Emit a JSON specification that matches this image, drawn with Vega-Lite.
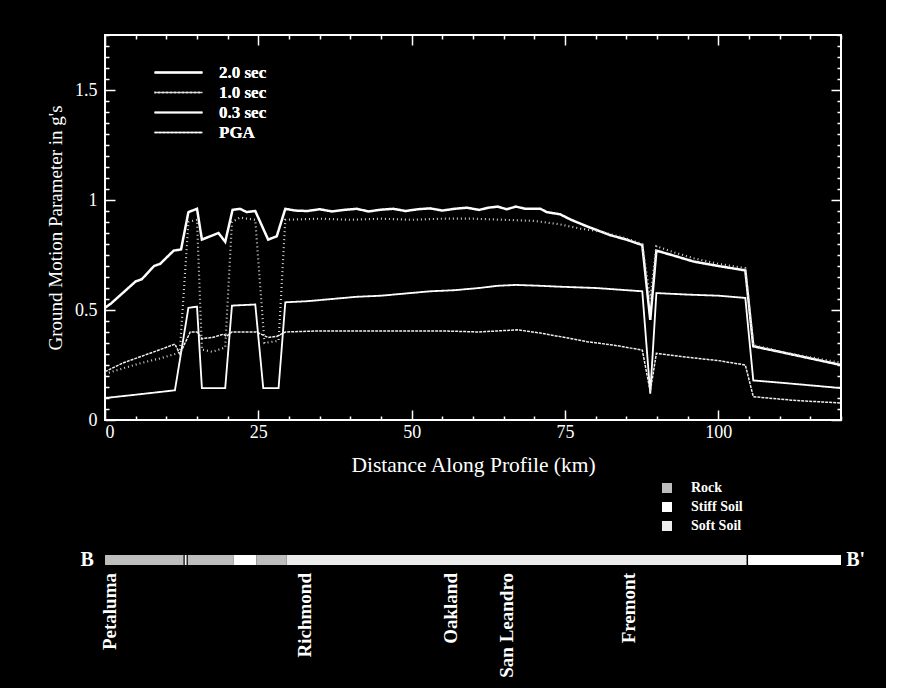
{
  "$schema": "https://vega.github.io/schema/vega-lite/v6.json",
  "background": "black",
  "padding": {"left": 45, "top": 25, "right": 20, "bottom": 10},
  "bounds": "flush",
  "spacing": 135,
  "resolve": {"scale": {"color": "independent", "x": "independent"}, "legend": {"color": "independent"}},
  "config": {
    "view": {"stroke": null},
    "font": "Liberation Serif",
    "axis": {
      "domain": false,
      "grid": false,
      "tickColor": "white",
      "tickWidth": 1.5,
      "labelColor": "white",
      "labelFont": "Liberation Serif",
      "labelFontSize": 18,
      "titleColor": "white",
      "titleFont": "Liberation Serif",
      "titleFontSize": 19,
      "titleFontWeight": "normal",
      "labelOverlap": false
    },
    "legend": {
      "labelFont": "Liberation Serif",
      "labelFontWeight": "bold",
      "labelColor": "white"
    }
  },
  "vconcat": [
    {
      "width": 736,
      "height": 385,
      "view": {"stroke": "white", "strokeWidth": 2},
      "data": {
        "values": [
          {"d": 0, "g": 0.51, "s": "2.0 sec"}, {"d": 1, "g": 0.53, "s": "2.0 sec"}, {"d": 3, "g": 0.58, "s": "2.0 sec"}, {"d": 5, "g": 0.63, "s": "2.0 sec"}, {"d": 6, "g": 0.64, "s": "2.0 sec"}, {"d": 8, "g": 0.7, "s": "2.0 sec"}, {"d": 9, "g": 0.71, "s": "2.0 sec"}, {"d": 11.2, "g": 0.77, "s": "2.0 sec"}, {"d": 12.4, "g": 0.775, "s": "2.0 sec"}, {"d": 13.6, "g": 0.945, "s": "2.0 sec"}, {"d": 15, "g": 0.96, "s": "2.0 sec"}, {"d": 15.8, "g": 0.82, "s": "2.0 sec"}, {"d": 18.5, "g": 0.85, "s": "2.0 sec"}, {"d": 19.6, "g": 0.81, "s": "2.0 sec"}, {"d": 20.8, "g": 0.955, "s": "2.0 sec"}, {"d": 22, "g": 0.96, "s": "2.0 sec"}, {"d": 23.1, "g": 0.945, "s": "2.0 sec"}, {"d": 24.5, "g": 0.95, "s": "2.0 sec"}, {"d": 26.6, "g": 0.82, "s": "2.0 sec"}, {"d": 28, "g": 0.835, "s": "2.0 sec"}, {"d": 29.4, "g": 0.96, "s": "2.0 sec"}, {"d": 31, "g": 0.952, "s": "2.0 sec"}, {"d": 33, "g": 0.95, "s": "2.0 sec"}, {"d": 35, "g": 0.958, "s": "2.0 sec"}, {"d": 37, "g": 0.948, "s": "2.0 sec"}, {"d": 39, "g": 0.955, "s": "2.0 sec"}, {"d": 41, "g": 0.96, "s": "2.0 sec"}, {"d": 43, "g": 0.948, "s": "2.0 sec"}, {"d": 45, "g": 0.956, "s": "2.0 sec"}, {"d": 47, "g": 0.96, "s": "2.0 sec"}, {"d": 49, "g": 0.95, "s": "2.0 sec"}, {"d": 51, "g": 0.958, "s": "2.0 sec"}, {"d": 53, "g": 0.962, "s": "2.0 sec"}, {"d": 55, "g": 0.952, "s": "2.0 sec"}, {"d": 57, "g": 0.96, "s": "2.0 sec"}, {"d": 59, "g": 0.965, "s": "2.0 sec"}, {"d": 61, "g": 0.955, "s": "2.0 sec"}, {"d": 62.5, "g": 0.965, "s": "2.0 sec"}, {"d": 64, "g": 0.97, "s": "2.0 sec"}, {"d": 65.5, "g": 0.958, "s": "2.0 sec"}, {"d": 67, "g": 0.97, "s": "2.0 sec"}, {"d": 68.5, "g": 0.96, "s": "2.0 sec"}, {"d": 71, "g": 0.96, "s": "2.0 sec"}, {"d": 72, "g": 0.945, "s": "2.0 sec"}, {"d": 74.2, "g": 0.935, "s": "2.0 sec"}, {"d": 76, "g": 0.91, "s": "2.0 sec"}, {"d": 78.6, "g": 0.88, "s": "2.0 sec"}, {"d": 80.5, "g": 0.86, "s": "2.0 sec"}, {"d": 82.4, "g": 0.84, "s": "2.0 sec"}, {"d": 85, "g": 0.82, "s": "2.0 sec"}, {"d": 87.6, "g": 0.795, "s": "2.0 sec"}, {"d": 88.9, "g": 0.455, "s": "2.0 sec"}, {"d": 89.9, "g": 0.77, "s": "2.0 sec"}, {"d": 93, "g": 0.745, "s": "2.0 sec"}, {"d": 96, "g": 0.72, "s": "2.0 sec"}, {"d": 100, "g": 0.7, "s": "2.0 sec"}, {"d": 104.4, "g": 0.68, "s": "2.0 sec"}, {"d": 105.7, "g": 0.335, "s": "2.0 sec"}, {"d": 110, "g": 0.31, "s": "2.0 sec"}, {"d": 115, "g": 0.28, "s": "2.0 sec"}, {"d": 120, "g": 0.25, "s": "2.0 sec"},

          {"d": 0, "g": 0.21, "s": "1.0 sec"}, {"d": 3, "g": 0.235, "s": "1.0 sec"}, {"d": 6, "g": 0.26, "s": "1.0 sec"}, {"d": 9, "g": 0.28, "s": "1.0 sec"}, {"d": 11.4, "g": 0.3, "s": "1.0 sec"}, {"d": 12.2, "g": 0.31, "s": "1.0 sec"}, {"d": 13.6, "g": 0.9, "s": "1.0 sec"}, {"d": 15, "g": 0.91, "s": "1.0 sec"}, {"d": 15.8, "g": 0.32, "s": "1.0 sec"}, {"d": 17.5, "g": 0.31, "s": "1.0 sec"}, {"d": 19.6, "g": 0.33, "s": "1.0 sec"}, {"d": 20.7, "g": 0.9, "s": "1.0 sec"}, {"d": 22, "g": 0.92, "s": "1.0 sec"}, {"d": 24.5, "g": 0.91, "s": "1.0 sec"}, {"d": 26, "g": 0.35, "s": "1.0 sec"}, {"d": 28.3, "g": 0.36, "s": "1.0 sec"}, {"d": 29.4, "g": 0.91, "s": "1.0 sec"}, {"d": 35, "g": 0.915, "s": "1.0 sec"}, {"d": 40, "g": 0.91, "s": "1.0 sec"}, {"d": 45, "g": 0.915, "s": "1.0 sec"}, {"d": 50, "g": 0.91, "s": "1.0 sec"}, {"d": 55, "g": 0.915, "s": "1.0 sec"}, {"d": 60, "g": 0.915, "s": "1.0 sec"}, {"d": 65, "g": 0.91, "s": "1.0 sec"}, {"d": 70, "g": 0.905, "s": "1.0 sec"}, {"d": 74, "g": 0.89, "s": "1.0 sec"}, {"d": 77.5, "g": 0.87, "s": "1.0 sec"}, {"d": 80, "g": 0.86, "s": "1.0 sec"}, {"d": 82.4, "g": 0.845, "s": "1.0 sec"}, {"d": 85, "g": 0.825, "s": "1.0 sec"}, {"d": 87.6, "g": 0.8, "s": "1.0 sec"}, {"d": 88.9, "g": 0.55, "s": "1.0 sec"}, {"d": 89.9, "g": 0.79, "s": "1.0 sec"}, {"d": 93, "g": 0.76, "s": "1.0 sec"}, {"d": 96, "g": 0.735, "s": "1.0 sec"}, {"d": 100, "g": 0.71, "s": "1.0 sec"}, {"d": 104.4, "g": 0.69, "s": "1.0 sec"}, {"d": 105.7, "g": 0.34, "s": "1.0 sec"}, {"d": 112, "g": 0.3, "s": "1.0 sec"}, {"d": 120, "g": 0.26, "s": "1.0 sec"},

          {"d": 0, "g": 0.1, "s": "0.3 sec"}, {"d": 5, "g": 0.115, "s": "0.3 sec"}, {"d": 11.4, "g": 0.135, "s": "0.3 sec"}, {"d": 13.6, "g": 0.51, "s": "0.3 sec"}, {"d": 15, "g": 0.515, "s": "0.3 sec"}, {"d": 15.8, "g": 0.145, "s": "0.3 sec"}, {"d": 19.6, "g": 0.145, "s": "0.3 sec"}, {"d": 20.7, "g": 0.52, "s": "0.3 sec"}, {"d": 24.5, "g": 0.525, "s": "0.3 sec"}, {"d": 25.8, "g": 0.145, "s": "0.3 sec"}, {"d": 28.3, "g": 0.145, "s": "0.3 sec"}, {"d": 29.4, "g": 0.535, "s": "0.3 sec"}, {"d": 33, "g": 0.54, "s": "0.3 sec"}, {"d": 37, "g": 0.55, "s": "0.3 sec"}, {"d": 41, "g": 0.56, "s": "0.3 sec"}, {"d": 45, "g": 0.565, "s": "0.3 sec"}, {"d": 49, "g": 0.575, "s": "0.3 sec"}, {"d": 53, "g": 0.585, "s": "0.3 sec"}, {"d": 57, "g": 0.59, "s": "0.3 sec"}, {"d": 61, "g": 0.6, "s": "0.3 sec"}, {"d": 64, "g": 0.61, "s": "0.3 sec"}, {"d": 67, "g": 0.614, "s": "0.3 sec"}, {"d": 71, "g": 0.61, "s": "0.3 sec"}, {"d": 74, "g": 0.606, "s": "0.3 sec"}, {"d": 80, "g": 0.6, "s": "0.3 sec"}, {"d": 87.6, "g": 0.585, "s": "0.3 sec"}, {"d": 88.9, "g": 0.12, "s": "0.3 sec"}, {"d": 89.9, "g": 0.577, "s": "0.3 sec"}, {"d": 95, "g": 0.57, "s": "0.3 sec"}, {"d": 100, "g": 0.565, "s": "0.3 sec"}, {"d": 104.4, "g": 0.555, "s": "0.3 sec"}, {"d": 105.7, "g": 0.18, "s": "0.3 sec"}, {"d": 112, "g": 0.165, "s": "0.3 sec"}, {"d": 120, "g": 0.145, "s": "0.3 sec"},

          {"d": 0, "g": 0.22, "s": "PGA"}, {"d": 3, "g": 0.26, "s": "PGA"}, {"d": 6, "g": 0.29, "s": "PGA"}, {"d": 9, "g": 0.32, "s": "PGA"}, {"d": 11.4, "g": 0.345, "s": "PGA"}, {"d": 12.2, "g": 0.3, "s": "PGA"}, {"d": 13.9, "g": 0.4, "s": "PGA"}, {"d": 15, "g": 0.4, "s": "PGA"}, {"d": 15.8, "g": 0.37, "s": "PGA"}, {"d": 17.5, "g": 0.375, "s": "PGA"}, {"d": 19.3, "g": 0.39, "s": "PGA"}, {"d": 19.8, "g": 0.38, "s": "PGA"}, {"d": 20.7, "g": 0.4, "s": "PGA"}, {"d": 24.7, "g": 0.4, "s": "PGA"}, {"d": 26.6, "g": 0.375, "s": "PGA"}, {"d": 28, "g": 0.38, "s": "PGA"}, {"d": 29.4, "g": 0.4, "s": "PGA"}, {"d": 35, "g": 0.405, "s": "PGA"}, {"d": 45, "g": 0.405, "s": "PGA"}, {"d": 55, "g": 0.405, "s": "PGA"}, {"d": 61, "g": 0.4, "s": "PGA"}, {"d": 67.2, "g": 0.41, "s": "PGA"}, {"d": 71, "g": 0.395, "s": "PGA"}, {"d": 75, "g": 0.375, "s": "PGA"}, {"d": 78.6, "g": 0.356, "s": "PGA"}, {"d": 83, "g": 0.34, "s": "PGA"}, {"d": 87.6, "g": 0.318, "s": "PGA"}, {"d": 88.9, "g": 0.13, "s": "PGA"}, {"d": 89.9, "g": 0.303, "s": "PGA"}, {"d": 95, "g": 0.285, "s": "PGA"}, {"d": 100, "g": 0.27, "s": "PGA"}, {"d": 104.4, "g": 0.25, "s": "PGA"}, {"d": 105.7, "g": 0.106, "s": "PGA"}, {"d": 112, "g": 0.09, "s": "PGA"}, {"d": 120, "g": 0.077, "s": "PGA"}
        ]
      },
      "layer": [
        {
          "mark": {"type": "line", "clip": true},
          "encoding": {
            "x": {
              "field": "d", "type": "quantitative",
              "scale": {"domain": [0, 120], "nice": false},
              "axis": {
                "orient": "bottom",
                "title": "Distance Along Profile (km)",
                "titleFontSize": 21.5,
                "values": [0,5,10,15,20,25,30,35,40,45,50,55,60,65,70,75,80,85,90,95,100,105,110,115,120],
                "labelExpr": "datum.value % 25 === 0 && datum.value < 120 ? datum.label : ''",
                "tickSize": {"condition": {"test": "datum.value % 25 === 0", "value": -10}, "value": -4},
                "labelPadding": 13,
                "titlePadding": 7
              }
            },
            "y": {
              "field": "g", "type": "quantitative",
              "scale": {"domain": [0, 1.75], "nice": false},
              "axis": {
                "orient": "left",
                "title": "Ground Motion Parameter in g's",
                "values": [0,0.05,0.1,0.15,0.2,0.25,0.3,0.35,0.4,0.45,0.5,0.55,0.6,0.65,0.7,0.75,0.8,0.85,0.9,0.95,1,1.05,1.1,1.15,1.2,1.25,1.3,1.35,1.4,1.45,1.5,1.55,1.6,1.65,1.7,1.75],
                "labelExpr": "abs(datum.value * 2 - round(datum.value * 2)) < 0.001 && datum.value < 1.7 ? format(datum.value, '~g') : ''",
                "tickSize": {"condition": {"test": "abs(datum.value * 2 - round(datum.value * 2)) < 0.001", "value": -10}, "value": -4},
                "labelPadding": 18,
                "titlePadding": 9
              }
            },
            "color": {
              "field": "s", "type": "nominal",
              "scale": {"domain": ["2.0 sec", "1.0 sec", "0.3 sec", "PGA"], "range": ["#ffffff", "#cfcfcf", "#ffffff", "#eeeeee"]},
              "legend": {
                "title": null, "orient": "none", "legendX": 65, "legendY": 29,
                "symbolType": "M-4,0H4", "symbolSize": 144, "symbolStrokeColor": "white", "symbolOpacity": 1,
                "labelFontSize": 17, "labelOffset": 32, "rowPadding": 2
              }
            },
            "strokeDash": {
              "field": "s", "type": "nominal",
              "scale": {"domain": ["2.0 sec", "1.0 sec", "0.3 sec", "PGA"], "range": [[1, 0], [1, 3], [1, 0], [3, 1]]},
              "legend": {
                "title": null, "orient": "none", "legendX": 65, "legendY": 29,
                "symbolType": "M-4,0H4", "symbolSize": 144, "symbolStrokeColor": "white", "symbolOpacity": 1,
                "labelFontSize": 17, "labelOffset": 32, "rowPadding": 2
              }
            },
            "strokeWidth": {
              "field": "s", "type": "nominal",
              "scale": {"domain": ["2.0 sec", "1.0 sec", "0.3 sec", "PGA"], "range": [2.5, 1.5, 2.5, 2.5]},
              "legend": {
                "title": null, "orient": "none", "legendX": 65, "legendY": 29,
                "symbolType": "M-4,0H4", "symbolSize": 144, "symbolStrokeColor": "white", "symbolOpacity": 1,
                "labelFontSize": 17, "labelOffset": 32, "rowPadding": 2
              }
            }
          }
        },
        {
          "mark": {"type": "point", "opacity": 0},
          "encoding": {
            "x": {
              "field": "d", "type": "quantitative",
              "axis": {
                "orient": "top", "title": null, "labels": false,
                "values": [0,5,10,15,20,25,30,35,40,45,50,55,60,65,70,75,80,85,90,95,100,105,110,115,120],
                "tickSize": {"condition": {"test": "datum.value % 25 === 0", "value": -10}, "value": -4}
              }
            },
            "y": {
              "field": "g", "type": "quantitative",
              "axis": {
                "orient": "right", "title": null, "labels": false,
                "values": [0,0.05,0.1,0.15,0.2,0.25,0.3,0.35,0.4,0.45,0.5,0.55,0.6,0.65,0.7,0.75,0.8,0.85,0.9,0.95,1,1.05,1.1,1.15,1.2,1.25,1.3,1.35,1.4,1.45,1.5,1.55,1.6,1.65,1.7,1.75],
                "tickSize": {"condition": {"test": "abs(datum.value * 2 - round(datum.value * 2)) < 0.001", "value": -10}, "value": -4}
              }
            }
          }
        }
      ],
      "resolve": {"axis": {"x": "independent", "y": "independent"}}
    },
    {
      "width": 736,
      "height": 10,
      "layer": [
        {
          "data": {
            "values": [
              {"a": 0, "b": 12.8, "soil": "Rock"},
              {"a": 13.0, "b": 13.3, "soil": "Stiff Soil"},
              {"a": 13.5, "b": 21, "soil": "Rock"},
              {"a": 21, "b": 24.7, "soil": "Stiff Soil"},
              {"a": 24.7, "b": 29.6, "soil": "Rock"},
              {"a": 29.6, "b": 104.6, "soil": "Soft Soil"},
              {"a": 104.85, "b": 120, "soil": "Stiff Soil"}
            ]
          },
          "mark": {"type": "rect"},
          "encoding": {
            "x": {"field": "a", "type": "quantitative", "scale": {"domain": [0, 120], "nice": false}, "axis": null},
            "x2": {"field": "b"},
            "color": {
              "field": "soil", "type": "nominal",
              "scale": {"domain": ["Rock", "Stiff Soil", "Soft Soil"], "range": ["#bdbdbd", "#ffffff", "#ececec"]},
              "legend": {
                "title": null,
                "orient": "none",
                "legendX": 555,
                "legendY": -74,
                "symbolType": "square",
                "symbolSize": 100,
                "symbolStrokeWidth": 0,
                "labelFontSize": 14,
                "labelOffset": 17,
                "rowPadding": 5
              }
            }
          }
        },
        {
          "data": {
            "values": [
              {"km": 0.8, "city": "Petaluma"},
              {"km": 32.6, "city": "Richmond"},
              {"km": 56.4, "city": "Oakland"},
              {"km": 65.5, "city": "San Leandro"},
              {"km": 85.5, "city": "Fremont"}
            ]
          },
          "mark": {"type": "text", "angle": 270, "align": "right", "baseline": "middle", "dx": -13, "font": "Liberation Serif", "fontWeight": "bold", "fontSize": 19, "color": "white"},
          "encoding": {
            "x": {"field": "km", "type": "quantitative"},
            "text": {"field": "city"}
          }
        },
        {
          "data": {
            "values": [
              {"km": -2.9, "label": "B"},
              {"km": 122.4, "label": "B'"}
            ]
          },
          "mark": {"type": "text", "align": "center", "baseline": "middle", "font": "Liberation Serif", "fontWeight": "bold", "fontSize": 20, "color": "white"},
          "encoding": {
            "x": {"field": "km", "type": "quantitative"},
            "text": {"field": "label"}
          }
        }
      ]
    }
  ]
}
